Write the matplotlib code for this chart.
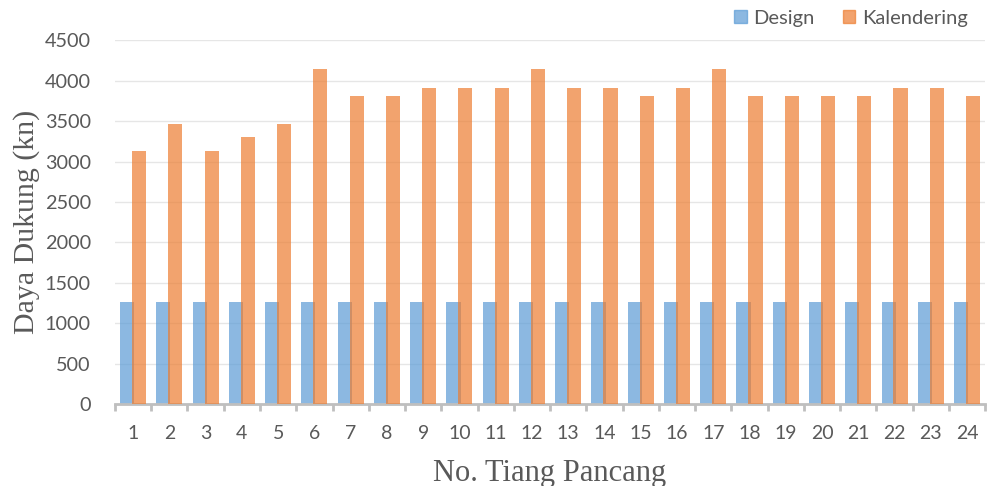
import matplotlib
matplotlib.use("Agg")
import matplotlib.pyplot as plt
from matplotlib.patches import Patch
import numpy as np

tiang = [str(i) for i in range(1, 25)]
design = [1268] * 24
kalendering = [3131, 3466, 3131, 3310, 3466, 4153, 3818, 3818, 3917, 3917, 3917, 4153,
               3917, 3917, 3818, 3917, 4153, 3818, 3818, 3818, 3818, 3917, 3917, 3818]

blue = "#5B9BD5"
orange = "#ED7D31"
grey_txt = "#595959"

fig = plt.figure(figsize=(9.98, 4.86), dpi=100)
ax = fig.add_axes([0.1152, 0.1687, 0.872, 0.748])

x = np.arange(len(tiang))
w = 0.39
ax.bar(x - 0.165, design, width=w, color=blue, alpha=0.7, zorder=2)
ax.bar(x + 0.165, kalendering, width=w, color=orange, alpha=0.7, zorder=3)

ax.set_xlim(-0.5, len(tiang) - 0.5)
ax.set_ylim(0, 4500)
ax.set_yticks(range(0, 4501, 500))
ax.yaxis.grid(True, color="#E6E6E6", linewidth=1)
ax.set_axisbelow(True)

for s in ["top", "right", "left"]:
    ax.spines[s].set_visible(False)
ax.spines["bottom"].set_color("#BFBFBF")
ax.spines["bottom"].set_linewidth(2)

# category labels centred, tick marks on boundaries
ax.set_xticks(x)
ax.set_xticklabels(tiang)
ax.tick_params(axis="x", length=0, pad=15, labelsize=14, labelcolor=grey_txt)
ax.set_xticks(np.arange(-0.5, len(tiang)), minor=True)
ax.tick_params(axis="x", which="minor", length=5, width=2, color="#BFBFBF")
ax.tick_params(axis="y", length=0, pad=17.5, labelsize=14.3, labelcolor=grey_txt)
for lab in ax.get_xticklabels() + ax.get_yticklabels():
    lab.set_family("Lato")

ax.set_xlabel("No. Tiang Pancang", family="Liberation Serif", fontsize=22,
              color=grey_txt, labelpad=12)
ax.set_ylabel("Daya Dukung (kn)", family="Liberation Serif", fontsize=21.5,
              color=grey_txt, labelpad=3)

handles = [Patch(color=blue, alpha=0.7), Patch(color=orange, alpha=0.7)]
fig.legend(handles, ["Design", "Kalendering"], loc="center", bbox_to_anchor=(0.853, 0.962),
           ncol=2, frameon=False, handlelength=0.6, handleheight=0.6, handletextpad=0.35,
           columnspacing=1.4, prop={"family": "Lato", "size": 14.5}, labelcolor=grey_txt)

fig.savefig("out.png", dpi=100)
